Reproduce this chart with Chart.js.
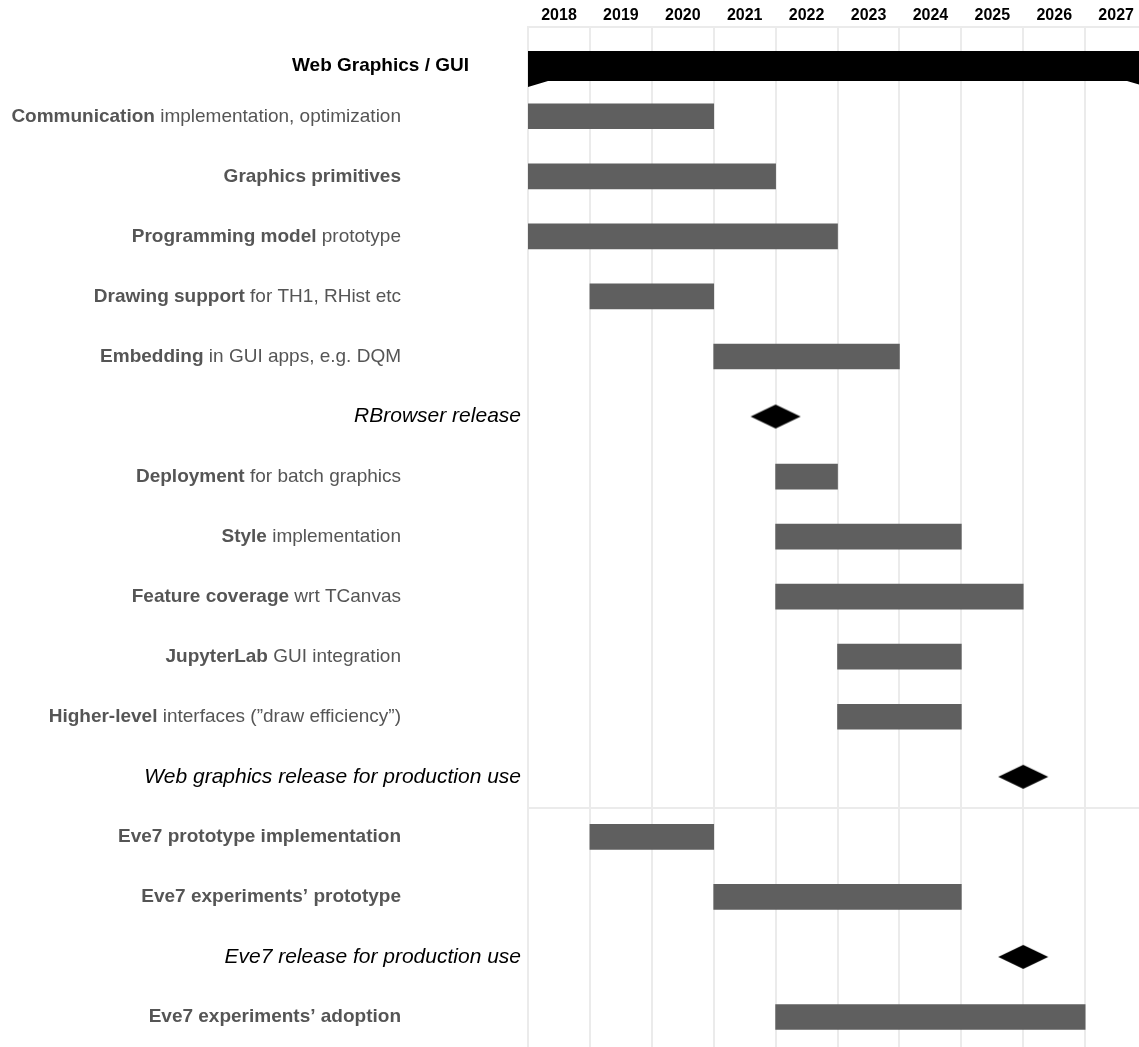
<!DOCTYPE html>
<html>
<head>
<meta charset="utf-8">
<script src="https://cdn.jsdelivr.net/npm/chart.js@4/dist/chart.umd.min.js"></script>
<style>
  html, body { margin: 0; padding: 0; overflow: hidden; background: #fff; }
  canvas { display: block; }
</style>
</head>
<body>
<canvas id="chart" width="1139" height="1047"></canvas>
<script>
// --- dados do roadmap ---
const yearTicks = [2018, 2019, 2020, 2021, 2022, 2023, 2024, 2025, 2026, 2027];

// tipo de cada linha: grupo, tarefa ou marco
const rowKind = ['group', 'task', 'task', 'task', 'task', 'task', 'milestone',
  'task', 'task', 'task', 'task', 'task', 'milestone',
  'task', 'task', 'milestone', 'task'];

// parte em negrito / parte normal do r칩tulo
const rowBold = ['Web Graphics / GUI', 'Communication', 'Graphics primitives', 'Programming model',
  'Drawing support', 'Embedding', '', 'Deployment', 'Style', 'Feature coverage', 'JupyterLab',
  'Higher-level', '', 'Eve7 prototype implementation', 'Eve7 experiments\u2019 prototype', '',
  'Eve7 experiments\u2019 adoption'];
const rowPlain = ['', ' implementation, optimization', '', ' prototype', ' for TH1, RHist etc',
  ' in GUI apps, e.g. DQM', 'RBrowser release', ' for batch graphics', ' implementation',
  ' wrt TCanvas', ' GUI integration', ' interfaces (\u201Ddraw efficiency\u201D)',
  'Web graphics release for production use', '', '', 'Eve7 release for production use', ''];

const taskStart = [null, 2018, 2018, 2018, 2019, 2021, null, 2022, 2022, 2022, 2023, 2023, null, 2019, 2021, null, 2022];
const taskEnd   = [null, 2021, 2022, 2023, 2021, 2024, null, 2023, 2025, 2026, 2025, 2025, null, 2021, 2025, null, 2027];
const milestoneYear = [null, null, null, null, null, null, 2022, null, null, null, null, null, 2026, null, null, 2026, null];

const summaryStart = 2018;
const summaryEnd = 2028;
const groupStarts = [0, 13]; // linhas separadoras

const rowKeys = rowBold.map((b, i) => b + rowPlain[i]);

// losango dos marcos
function makeDiamond() {
  const c = document.createElement('canvas');
  c.width = 52; c.height = 26;
  const g = c.getContext('2d');
  g.fillStyle = '#000';
  g.beginPath();
  g.moveTo(1, 13); g.lineTo(26, 1); g.lineTo(51, 13); g.lineTo(26, 25);
  g.closePath(); g.fill();
  return c;
}
const diamond = makeDiamond();

const rowCenter = (scale, i) => scale.getPixelForValue(i);

// linhas horizontais e barra de resumo
const fundoPlugin = {
  id: 'fundo',
  beforeDatasetsDraw(chart) {
    const { ctx, chartArea, scales } = chart;
    const y = scales.y, x = scales.x;
    const h = rowCenter(y, 1) - rowCenter(y, 0);
    ctx.save();
    ctx.strokeStyle = '#ebebeb';
    ctx.lineWidth = 2;
    groupStarts.forEach(i => {
      const py = Math.round(rowCenter(y, i) - h / 2) + 1;
      ctx.beginPath();
      ctx.moveTo(chartArea.left, py);
      ctx.lineTo(chartArea.right, py);
      ctx.stroke();
    });

    // barra preta do grupo
    ctx.beginPath();
    ctx.rect(chartArea.left, chartArea.top, chartArea.right - chartArea.left, chartArea.bottom - chartArea.top);
    ctx.clip();
    const c0 = rowCenter(y, 0);
    const top = Math.round(c0 - 5), bot = Math.round(c0 + 25);
    const x0 = x.getPixelForValue(summaryStart), x1 = x.getPixelForValue(summaryEnd);
    ctx.fillStyle = '#000';
    ctx.beginPath();
    ctx.moveTo(x0, top);
    ctx.lineTo(x1, top);
    ctx.lineTo(x1, bot + 6);
    ctx.lineTo(x1 - 20, bot);
    ctx.lineTo(x0 + 20, bot);
    ctx.lineTo(x0, bot + 6);
    ctx.closePath();
    ctx.fill();
    ctx.restore();
  },
  afterDraw(chart) {
    const { ctx, scales } = chart;
    const y = scales.y;
    const fam = '"Liberation Sans", Arial, sans-serif';
    ctx.save();
    ctx.textBaseline = 'middle';
    ctx.textAlign = 'right';
    rowKind.forEach((k, i) => {
      const cy = rowCenter(y, i);
      if (k === 'group') {
        ctx.font = 'bold 19px ' + fam;
        ctx.fillStyle = '#000';
        ctx.fillText(rowBold[i], 469, cy + 10);
      } else if (k === 'milestone') {
        ctx.font = 'italic 21px ' + fam;
        ctx.fillStyle = '#000';
        ctx.fillText(rowPlain[i], 521, cy);
      } else {
        ctx.fillStyle = '#555';
        ctx.font = '19px ' + fam;
        const w = ctx.measureText(rowPlain[i]).width;
        if (rowPlain[i]) ctx.fillText(rowPlain[i], 401, cy);
        ctx.font = 'bold 19px ' + fam;
        ctx.fillText(rowBold[i], 401 - w, cy);
      }
    });
    ctx.restore();
  }
};

new Chart(document.getElementById('chart'), {
  type: 'bar',
  data: {
    labels: rowKeys,
    datasets: [
      {
        type: 'bar',
        data: rowKeys.map((k, i) => taskStart[i] == null ? null : [taskStart[i], taskEnd[i]]),
        backgroundColor: '#5f5f5f',
        borderWidth: 0,
        barThickness: 25
      },
      {
        type: 'line',
        showLine: false,
        clip: false,
        data: rowKeys.map((k, i) => milestoneYear[i] == null ? null : { x: milestoneYear[i], y: k }).filter(p => p),
        pointStyle: diamond,
        pointRadius: 13,
        pointHoverRadius: 13
      }
    ]
  },
  options: {
    indexAxis: 'y',
    responsive: false,
    animation: false,
    devicePixelRatio: 1,
    layout: { autoPadding: false, padding: { left: 528, top: 5, right: 0, bottom: -3 } },
    plugins: { legend: { display: false }, tooltip: { enabled: false } },
    scales: {
      x: {
        type: 'linear',
        position: 'top',
        min: 2018,
        max: 2027.87,
        afterBuildTicks: axis => { axis.ticks = yearTicks.map(v => ({ value: v })); },
        grid: { color: '#ebebeb', lineWidth: 2, drawTicks: false },
        border: { display: false },
        ticks: {
          autoSkip: false,
          maxRotation: 0,
          padding: 1,
          labelOffset: 31,
          color: '#000',
          font: { family: '"Liberation Sans", Arial, sans-serif', size: 16, weight: 'bold' },
          callback: v => String(v)
        }
      },
      y: {
        type: 'category',
        display: false,
        offset: true
      }
    }
  },
  plugins: [fundoPlugin]
});
</script>
</body>
</html>
